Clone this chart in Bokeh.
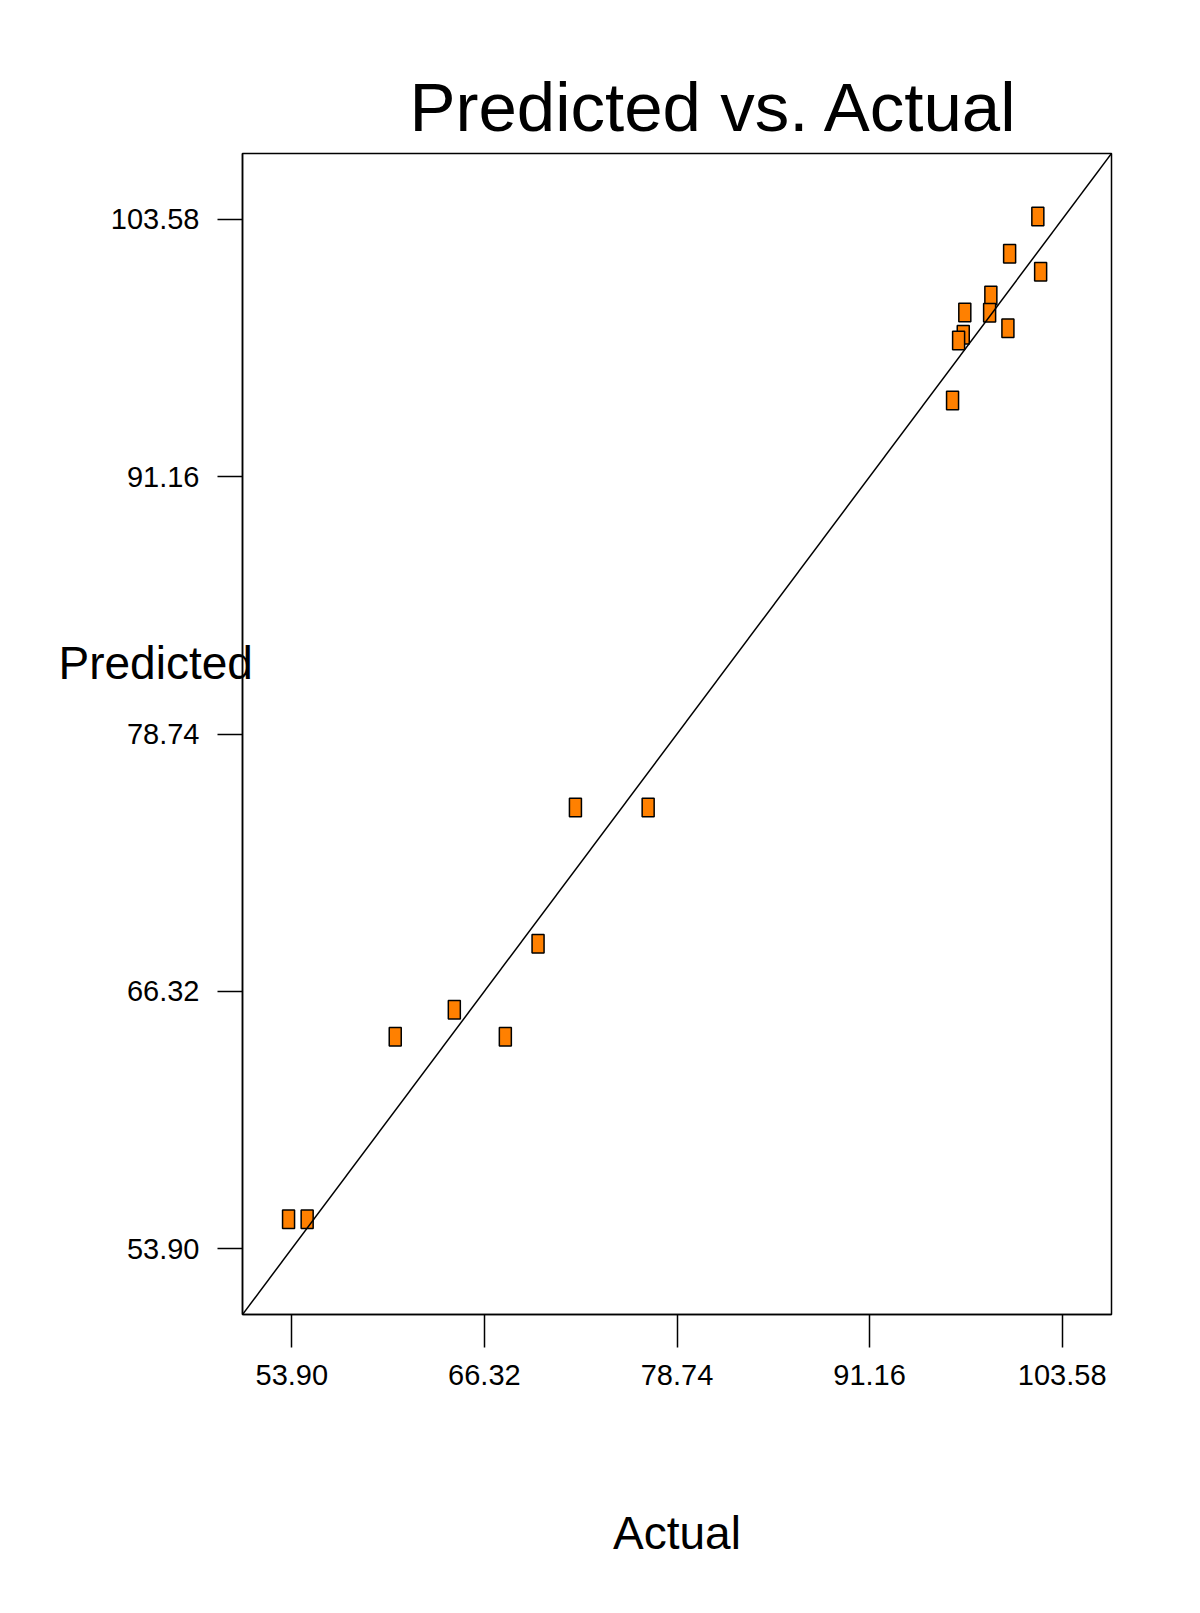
from bokeh.plotting import figure
from bokeh.models import Range1d, FixedTicker, NumeralTickFormatter, Slope, Label, Title
from bokeh.embed import file_html
from bokeh.resources import INLINE

# Data
actual = [102.01, 100.19, 102.19, 98.98, 97.30, 98.90, 100.08, 97.20, 96.90, 96.51,
          72.19, 76.88, 69.78, 64.38, 60.57, 67.67, 53.69, 54.89]
predicted = [103.72, 101.92, 101.05, 99.91, 99.09, 99.07, 98.33, 98.01, 97.73, 94.84,
             75.19, 75.19, 68.61, 65.43, 64.13, 64.13, 55.32, 55.32]
tick_values = [53.90, 66.32, 78.74, 91.16, 103.58]
axis_min = 50.72
axis_max = 106.76

FONT = "Liberation Sans"

p = figure(frame_width=869, frame_height=1161,
           min_border_left=242, min_border_right=81,
           min_border_top=153, min_border_bottom=291,
           x_range=Range1d(axis_min, axis_max), y_range=Range1d(axis_min, axis_max),
           output_backend="svg", toolbar_location=None)

p.background_fill_color = "white"
p.border_fill_color = "white"
p.outline_line_color = "black"
p.outline_line_width = 1.5
p.xgrid.visible = False
p.ygrid.visible = False

p.add_layout(Title(text="Predicted vs. Actual", align="left", offset=167,
                   text_font_size="69px", text_font=FONT, text_font_style="normal",
                   text_color="black", standoff=16), "above")

for ax, tick_out, standoff in ((p.xaxis[0], 33, 17), (p.yaxis[0], 25, 18)):
    ax.ticker = FixedTicker(ticks=tick_values)
    ax.formatter = NumeralTickFormatter(format="0.00")
    ax.major_tick_in = 0
    ax.major_tick_out = tick_out
    ax.minor_tick_line_color = None
    ax.major_tick_line_width = 1.5
    ax.major_tick_line_color = "black"
    ax.axis_line_width = 1.5
    ax.axis_line_color = "black"
    ax.major_label_text_font = FONT
    ax.major_label_text_font_size = "29px"
    ax.major_label_text_color = "black"
    ax.major_label_standoff = standoff

p.xaxis[0].axis_label = "Actual"
p.xaxis[0].axis_label_text_font = FONT
p.xaxis[0].axis_label_text_font_size = "46px"
p.xaxis[0].axis_label_text_font_style = "normal"
p.xaxis[0].axis_label_text_color = "black"
p.xaxis[0].axis_label_standoff = 119

p.add_layout(Slope(gradient=1, y_intercept=0, line_color="black", line_width=1.5))

p.rect(x=actual, y=predicted, width=12, height=18.5,
       width_units="screen", height_units="screen",
       fill_color="#FF8000", line_color="black", line_width=1.5)

p.add_layout(Label(x=-184, y=-604, x_units="screen", y_units="screen",
                   text="Predicted", text_font=FONT, text_font_size="46px",
                   text_color="black", text_align="left", text_baseline="alphabetic"),
             "above")

open("out.html", "w").write(file_html(p, INLINE))
